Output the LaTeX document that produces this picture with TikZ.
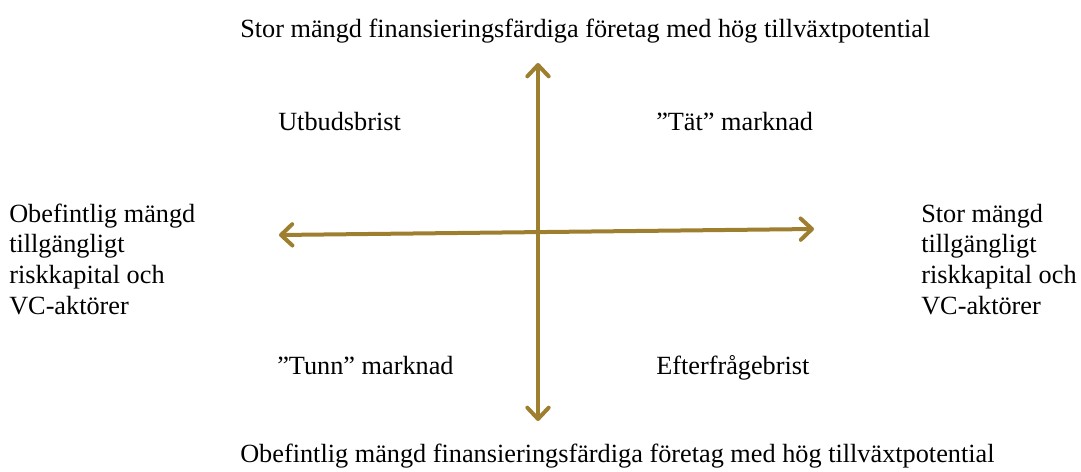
\documentclass[tikz,border=0pt]{standalone}
\usepackage{fontspec}
\setmainfont{Liberation Serif}
\usetikzlibrary{arrows.meta}
\definecolor{axisgold}{RGB}{158,127,48}
\begin{document}
\begin{tikzpicture}[x=0.75pt,y=-0.75pt,
  lbl/.style={inner sep=0pt,anchor=base west,font=\fontsize{19.7}{22.9}\selectfont},
  axis/.style={draw=axisgold,line width=3pt,
    arrows={Straight Barb[length=8.5pt,width=16pt,line cap=round,line join=round]-Straight Barb[length=8.5pt,width=16pt,line cap=round,line join=round]}}]
\useasboundingbox (0,0) rectangle (1081,471);
\coordinate (top) at (538,63);
\coordinate (bot) at (538,421);
\coordinate (lft) at (279,235);
\coordinate (rgt) at (814,229);
\draw[axis] (bot) -- (top);
\draw[axis] (lft) -- (rgt);
\node[lbl] (ttop) at (240,37) {Stor mängd finansieringsfärdiga företag med hög tillväxtpotential};
\node[lbl] (tbot) at (240,462) {Obefintlig mängd finansieringsfärdiga företag med hög tillväxtpotential};
\node[lbl] (q1) at (278,130) {Utbudsbrist};
\node[lbl] (q2) at (656,130) {”Tät” marknad};
\node[lbl] (q3) at (277,374) {”Tunn” marknad};
\node[lbl] (q4) at (656,374) {Efterfrågebrist};
\node[lbl,align=left] (tl) at (9,314) {Obefintlig mängd\\tillgängligt\\riskkapital och\\VC-aktörer};
\node[lbl,align=left] (tr) at (921,314) {Stor mängd\\tillgängligt\\riskkapital och\\VC-aktörer};
\end{tikzpicture}
\end{document}
